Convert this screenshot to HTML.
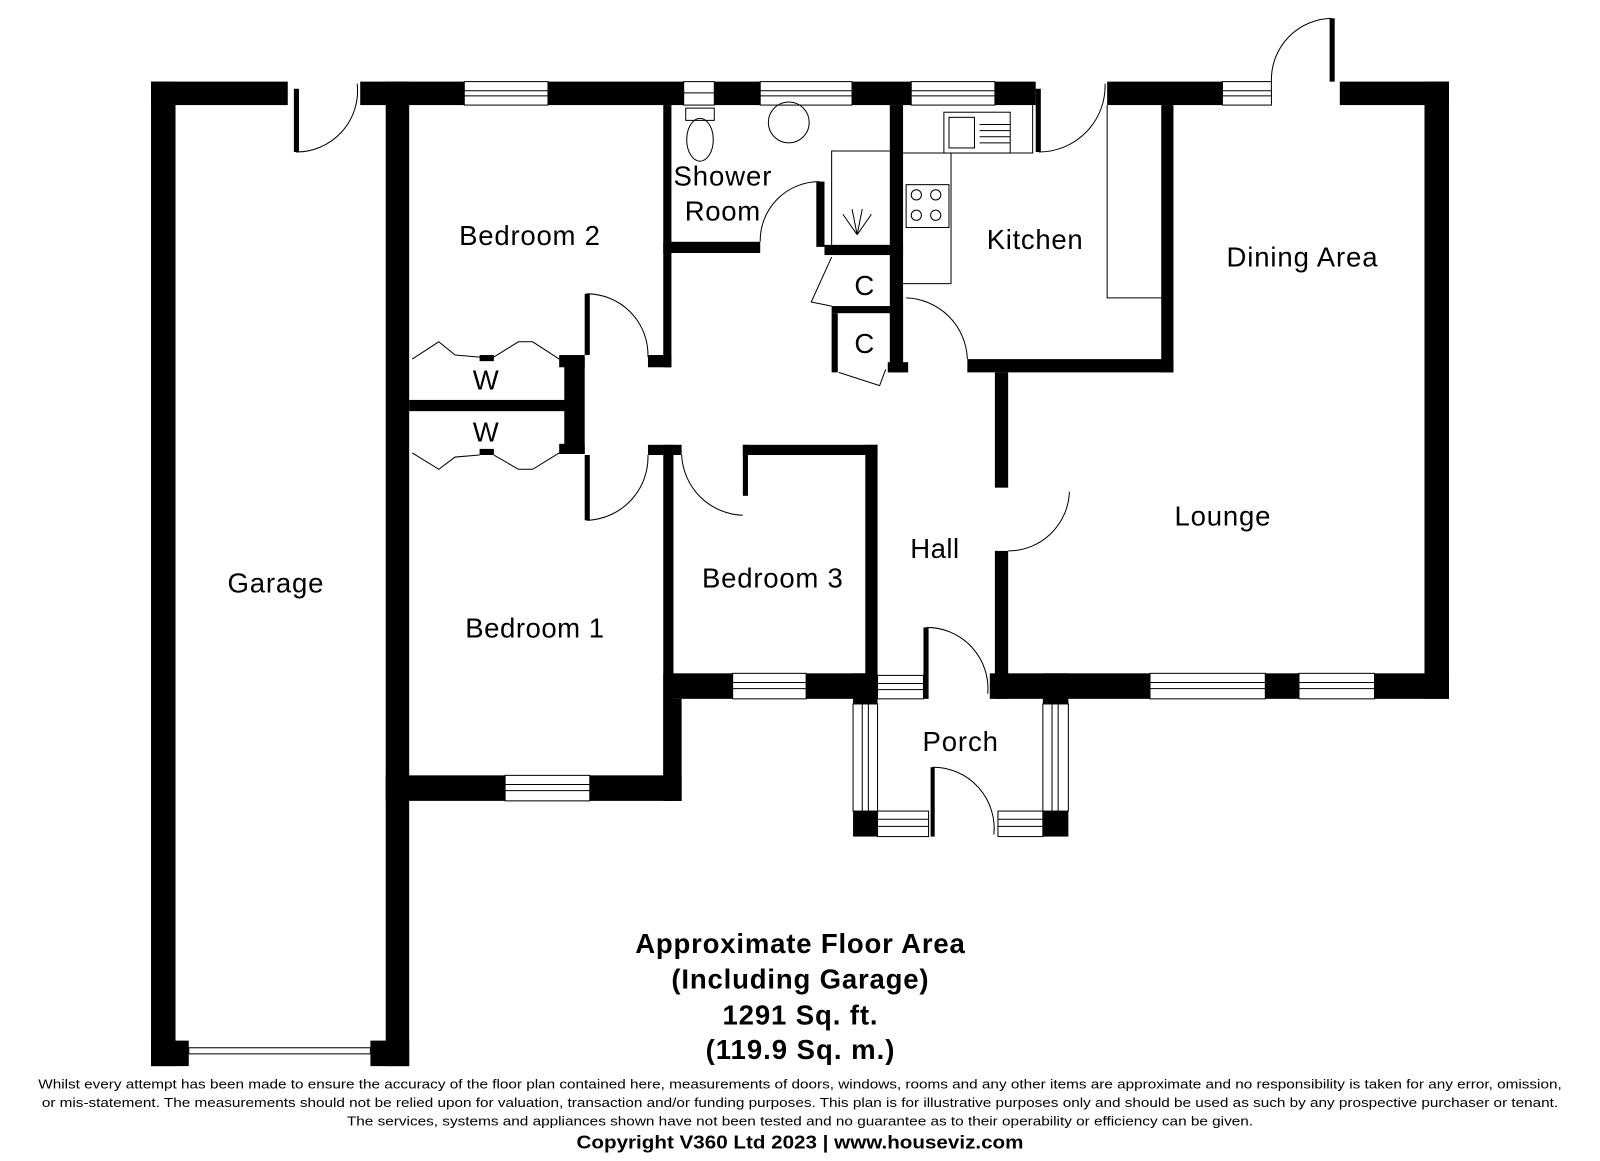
<!DOCTYPE html>
<html><head><meta charset="utf-8"><style>
html,body{margin:0;padding:0;background:#fff;}
svg{display:block;}
text{font-family:"Liberation Sans",Arial,sans-serif;fill:#000;}
</style></head><body>
<svg width="1600" height="1161" viewBox="0 0 1568 1138" preserveAspectRatio="none" xmlns="http://www.w3.org/2000/svg">
<g fill="#000">
<rect x="148" y="80" width="134" height="23"/>
<rect x="353" y="80" width="102" height="23"/>
<rect x="537" y="80" width="133" height="23"/>
<rect x="700" y="80" width="45" height="23"/>
<rect x="835" y="80" width="58" height="23"/>
<rect x="975" y="80" width="40" height="23"/>
<rect x="1085" y="80" width="113" height="23"/>
<rect x="1313" y="80" width="107" height="23"/>
<rect x="148" y="80" width="24" height="965"/>
<rect x="378" y="80" width="23" height="965"/>
<rect x="148" y="1020" width="37" height="25"/>
<rect x="363" y="1020" width="38" height="25"/>
<rect x="650" y="103" width="8" height="257"/>
<rect x="650" y="237" width="95" height="11"/>
<rect x="635" y="348" width="23" height="12"/>
<rect x="800" y="178" width="8" height="64"/>
<rect x="808" y="240" width="77" height="10"/>
<rect x="872" y="103" width="13" height="262"/>
<rect x="815" y="300" width="60" height="7"/>
<rect x="815" y="307" width="6" height="58"/>
<rect x="870" y="355" width="20" height="10"/>
<rect x="880" y="292" width="5" height="65"/>
<rect x="948" y="352" width="202" height="13"/>
<rect x="1138" y="103" width="12" height="262"/>
<rect x="975" y="365" width="13" height="113"/>
<rect x="975" y="540" width="13" height="145"/>
<rect x="1396" y="80" width="24" height="605"/>
<rect x="970" y="660" width="157" height="25"/>
<rect x="1240" y="660" width="33" height="25"/>
<rect x="1347" y="660" width="73" height="25"/>
<rect x="401" y="392" width="164" height="11"/>
<rect x="553" y="350" width="20" height="95"/>
<rect x="548" y="348" width="25" height="12"/>
<rect x="548" y="435" width="25" height="10"/>
<rect x="470" y="348" width="14" height="6"/>
<rect x="470" y="440" width="14" height="6"/>
<rect x="573" y="288" width="5" height="60"/>
<rect x="573" y="446" width="5" height="64"/>
<rect x="635" y="436" width="33" height="10"/>
<rect x="728" y="436" width="132" height="10"/>
<rect x="728" y="436" width="5" height="50"/>
<rect x="650" y="436" width="10" height="349"/>
<rect x="650" y="685" width="18" height="100"/>
<rect x="848" y="436" width="12" height="250"/>
<rect x="650" y="660" width="68" height="25"/>
<rect x="790" y="660" width="70" height="25"/>
<rect x="836" y="660" width="24" height="30"/>
<rect x="378" y="760" width="117" height="25"/>
<rect x="578" y="760" width="90" height="25"/>
<rect x="905" y="615" width="5" height="70"/>
<rect x="836" y="795" width="24" height="25"/>
<rect x="1022" y="795" width="25" height="25"/>
<rect x="1022" y="660" width="25" height="30"/>
<rect x="912" y="752" width="4" height="68"/>
<rect x="288" y="87" width="5" height="62"/>
<rect x="1015" y="87" width="5" height="62"/>
<rect x="1303" y="18" width="5" height="62"/>
</g>
<g fill="none" stroke="#000" stroke-width="1">
<rect x="455" y="80" width="82" height="23"/><line x1="455" y1="89" x2="537" y2="89"/><line x1="455" y1="94" x2="537" y2="94"/>
<rect x="670" y="80" width="30" height="23"/><line x1="670" y1="91" x2="700" y2="91"/>
<rect x="745" y="80" width="90" height="23"/><line x1="745" y1="89" x2="835" y2="89"/><line x1="745" y1="94" x2="835" y2="94"/>
<rect x="893" y="80" width="82" height="23"/><line x1="893" y1="89" x2="975" y2="89"/><line x1="893" y1="94" x2="975" y2="94"/>
<rect x="1198" y="80" width="48" height="23"/><line x1="1198" y1="89" x2="1246" y2="89"/><line x1="1198" y1="94" x2="1246" y2="94"/>
<rect x="185" y="1027" width="178" height="6"/>
<rect x="1127" y="660" width="113" height="25"/><line x1="1127" y1="669" x2="1240" y2="669"/><line x1="1127" y1="675" x2="1240" y2="675"/>
<rect x="1273" y="660" width="74" height="25"/><line x1="1273" y1="669" x2="1347" y2="669"/><line x1="1273" y1="675" x2="1347" y2="675"/>
<rect x="718" y="660" width="72" height="25"/><line x1="718" y1="669" x2="790" y2="669"/><line x1="718" y1="675" x2="790" y2="675"/>
<rect x="860" y="662" width="45" height="23"/><line x1="860" y1="670" x2="905" y2="670"/><line x1="860" y1="676" x2="905" y2="676"/>
<rect x="495" y="760" width="83" height="25"/><line x1="495" y1="769" x2="578" y2="769"/><line x1="495" y1="775" x2="578" y2="775"/>
<rect x="836" y="690" width="24" height="105"/><line x1="845" y1="690" x2="845" y2="795"/><line x1="851" y1="690" x2="851" y2="795"/>
<rect x="1022" y="690" width="25" height="105"/><line x1="1031" y1="690" x2="1031" y2="795"/><line x1="1037" y1="690" x2="1037" y2="795"/>
<rect x="860" y="795" width="50" height="25"/><line x1="860" y1="803" x2="910" y2="803"/><line x1="860" y1="810" x2="910" y2="810"/>
<rect x="978" y="795" width="44" height="25"/><line x1="978" y1="803" x2="1022" y2="803"/><line x1="978" y1="810" x2="1022" y2="810"/>
<path d="M290 149 A60 60 0 0 0 350 82"/>
<path d="M1018 149 A65 65 0 0 0 1083 82"/>
<path d="M1305 18 A60 60 0 0 0 1246 80"/>
<path d="M575 288 A60 60 0 0 1 635 350"/>
<path d="M575 510 A62 62 0 0 0 635 446"/>
<path d="M668 446 A62 62 0 0 0 728 505"/>
<path d="M745 237 A58 58 0 0 1 803 178"/>
<path d="M888 292 A62 62 0 0 1 948 352"/>
<path d="M988 540 A60 60 0 0 0 1048 482"/>
<path d="M908 615 A60 60 0 0 1 968 680"/>
<path d="M914 752 A60 60 0 0 1 974 818"/>
<path d="M815 252 L795 296 L815 300"/>
<path d="M822 365 L862 378 L868 362"/>
<path d="M404 352 L430 335 L446 348 L470 350"/>
<path d="M484 350 L508 335 L522 335 L548 352"/>
<path d="M404 444 L430 460 L446 448 L470 446"/>
<path d="M484 446 L508 460 L522 460 L548 444"/>
<path d="M885 150 L932 150 L932 278 L885 278"/>
<path d="M932 150 L1012 150 L1012 103"/>
<rect x="925" y="110" width="65" height="40"/><rect x="930" y="115" width="25" height="30"/>
<rect x="888" y="181" width="42" height="42"/>
<circle cx="898" cy="191" r="5"/><circle cx="917" cy="191" r="5"/><circle cx="898" cy="211" r="5"/><circle cx="917" cy="211" r="5"/>
<path d="M1085 103 L1085 292 L1138 292"/>
<path d="M815 240 L815 148 L872 148"/>
<rect x="672" y="106" width="28" height="12"/>
<ellipse cx="686" cy="137" rx="13" ry="21"/>
<circle cx="773" cy="120" r="20"/>
<line x1="960" y1="122" x2="990" y2="122"/><line x1="960" y1="128" x2="990" y2="128"/><line x1="960" y1="134" x2="990" y2="134"/><line x1="960" y1="140" x2="990" y2="140"/>
<path d="M840 230 L826 210 M840 230 L835 205 M840 230 L845 205 M840 230 L854 210"/>
</g>
<g font-size="27" text-anchor="middle">
<text x="270" y="581" textLength="94">Garage</text>
<text x="519" y="240" textLength="138">Bedroom 2</text>
<text x="708" y="182" textLength="96">Shower</text>
<text x="708" y="216" textLength="74">Room</text>
<text x="1014" y="244" textLength="94">Kitchen</text>
<text x="1276" y="261" textLength="148">Dining Area</text>
<text x="476" y="382">W</text>
<text x="476" y="433">W</text>
<text x="847" y="289">C</text>
<text x="847" y="346">C</text>
<text x="1198" y="515" textLength="94">Lounge</text>
<text x="916" y="547" textLength="48">Hall</text>
<text x="757" y="576" textLength="138">Bedroom 3</text>
<text x="524" y="625" textLength="136">Bedroom 1</text>
<text x="941" y="736" textLength="74">Porch</text>
</g>
<g font-size="27" font-weight="bold" text-anchor="middle">
<text x="784" y="934" textLength="323">Approximate Floor Area</text>
<text x="784" y="969" textLength="252">(Including Garage)</text>
<text x="784" y="1004" textLength="152">1291 Sq. ft.</text>
<text x="784" y="1038" textLength="185">(119.9 Sq. m.)</text>
</g>
<g font-size="13" text-anchor="middle">
<text x="784" y="1067" textLength="1493" lengthAdjust="spacingAndGlyphs">Whilst every attempt has been made to ensure the accuracy of the floor plan contained here, measurements of doors, windows, rooms and any other items are approximate and no responsibility is taken for any error, omission,</text>
<text x="784" y="1085" textLength="1486" lengthAdjust="spacingAndGlyphs">or mis-statement. The measurements should not be relied upon for valuation, transaction and/or funding purposes. This plan is for illustrative purposes only and should be used as such by any prospective purchaser or tenant.</text>
<text x="784" y="1103" textLength="888" lengthAdjust="spacingAndGlyphs">The services, systems and appliances shown have not been tested and no guarantee as to their operability or efficiency can be given.</text>
</g>
<text x="784" y="1126" font-size="18" font-weight="bold" text-anchor="middle" textLength="438" lengthAdjust="spacingAndGlyphs">Copyright V360 Ltd 2023 | www.houseviz.com</text>
</svg>
</body></html>
